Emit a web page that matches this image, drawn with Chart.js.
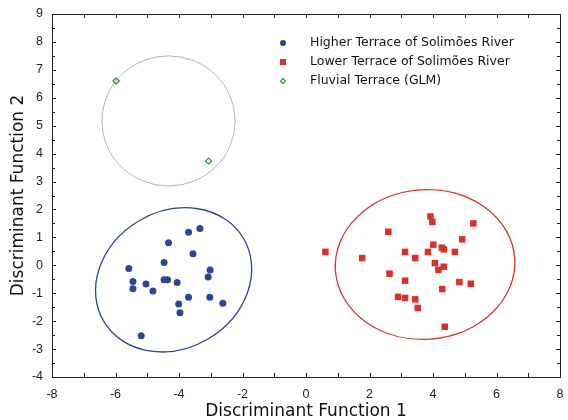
<!DOCTYPE html>
<html><head><meta charset="utf-8"><title>Discriminant</title>
<script src="https://cdn.jsdelivr.net/npm/chart.js"></script>
<style>body{margin:0;background:#fff}</style></head>
<body>
<div style="width:568px;height:420px"><canvas id="dfChart" width="568" height="420"></canvas></div>
<script>
// group scores
const higherX = [-3.70,-3.34,-4.33,-3.56,-4.47,-5.58,-3.02,-3.08,-5.45,-5.04,-4.47,-4.36,-4.06,-5.45,-4.82,-3.70,-3.03,-2.62,-4.01,-3.97,-5.19];
const higherY = [1.18,1.32,0.81,0.41,0.10,-0.11,-0.17,-0.42,-0.58,-0.67,-0.52,-0.52,-0.62,-0.84,-0.92,-1.14,-1.14,-1.36,-1.39,-1.70,-2.52];
const lowerX = [0.61,1.77,2.59,3.92,3.98,5.27,4.92,4.01,3.12,3.84,4.28,4.34,4.69,3.44,4.06,4.17,4.34,2.63,3.12,4.83,5.19,4.29,2.90,3.12,3.44,3.52,4.37];
const lowerY = [0.48,0.26,1.20,1.75,1.55,1.50,0.93,0.74,0.48,0.48,0.63,0.57,0.48,0.26,0.08,-0.16,-0.05,-0.30,-0.55,-0.60,-0.66,-0.85,-1.13,-1.17,-1.22,-1.53,-2.20];
const fluvialX = [-5.98,-3.07];
const fluvialY = [6.60,3.73];

const groupNames = ['Higher Terrace of Solimões River','Lower Terrace of Solimões River','Fluvial Terrace (GLM)'];

// confidence ellipses: higher, lower, fluvial
const ellipseCx = [-4.17, 3.75, -4.33];
const ellipseCy = [-0.52, 0.03, 5.17];
const ellipseRx = [2.56, 2.83, 2.10];
const ellipseRy = [2.45, 2.68, 2.33];
const ellipseAngle = [-31, -4, 0];

const xTicks = [-8,-6,-4,-2,0,2,4,6,8];

const blue = '#2c4790', red = '#d8302e', green = '#2f9a3c';
const ellipseColors = [blue, red, '#a0a0a0'];

function pts(xs, ys) { return xs.map((x, i) => ({x: x, y: ys[i]})); }

const ellipses = {
  id: 'ellipses',
  beforeDatasetsDraw(chart) {
    const {ctx, scales: {x, y}} = chart;
    ctx.save();
    for (let i = 0; i < ellipseCx.length; i++) {
      const cx = x.getPixelForValue(ellipseCx[i]), cy = y.getPixelForValue(ellipseCy[i]);
      const rx = x.getPixelForValue(ellipseCx[i] + ellipseRx[i]) - cx;
      const ry = cy - y.getPixelForValue(ellipseCy[i] + ellipseRy[i]);
      ctx.beginPath();
      ctx.ellipse(cx, cy, rx, ry, ellipseAngle[i] * Math.PI / 180, 0, 2 * Math.PI);
      ctx.strokeStyle = ellipseColors[i];
      ctx.lineWidth = i == 2 ? 0.8 : 1.3;
      ctx.stroke();
    }
    ctx.restore();
  }
};

// frame with inward ticks on all four sides, plus legend inside
const frame = {
  id: 'frame',
  afterDraw(chart) {
    const {ctx, chartArea: a, scales: {x, y}} = chart;
    ctx.save();
    ctx.strokeStyle = '#222';
    ctx.lineWidth = 1;
    ctx.strokeRect(a.left + 0.5, a.top + 0.5, a.right - a.left, a.bottom - a.top);
    ctx.beginPath();
    for (let v = -8; v <= 8; v++) {
      const px = Math.round(x.getPixelForValue(v)) + 0.5;
      ctx.moveTo(px, a.bottom); ctx.lineTo(px, a.bottom - 4);
      ctx.moveTo(px, a.top); ctx.lineTo(px, a.top + 4);
    }
    for (let v = -4; v <= 9; v += 0.5) {
      const py = Math.round(y.getPixelForValue(v)) + 0.5;
      const len = Number.isInteger(v) ? 4 : 3;
      ctx.moveTo(a.left, py); ctx.lineTo(a.left + len, py);
      ctx.moveTo(a.right, py); ctx.lineTo(a.right - len, py);
    }
    ctx.stroke();

    // legend
    const lx = 283, ly = 43, gap = 19;
    ctx.font = '12.5px "DejaVu Sans"';
    ctx.textBaseline = 'middle';
    ctx.fillStyle = '#111';
    chart.data.datasets.forEach((ds, i) => {
      const yy = ly + i * gap;
      ctx.fillText(ds.label, 310, yy);
    });
    ctx.fillStyle = blue;
    ctx.beginPath(); ctx.arc(lx, ly, 3, 0, 2 * Math.PI); ctx.fill();
    ctx.fillStyle = red;
    ctx.fillRect(lx - 3, ly + gap - 3, 6, 6);
    ctx.strokeStyle = green; ctx.lineWidth = 1.2;
    ctx.beginPath();
    ctx.moveTo(lx, ly + 2 * gap - 2.5); ctx.lineTo(lx + 2.5, ly + 2 * gap);
    ctx.lineTo(lx, ly + 2 * gap + 2.5); ctx.lineTo(lx - 2.5, ly + 2 * gap); ctx.closePath();
    ctx.stroke();
    ctx.restore();
  }
};

new Chart(document.getElementById('dfChart'), {
  type: 'scatter',
  data: {
    datasets: [
      { label: groupNames[0], data: pts(higherX, higherY), pointStyle: 'circle', pointRadius: 3.5,
        backgroundColor: blue, borderColor: blue, borderWidth: 0 },
      { label: groupNames[1], data: pts(lowerX, lowerY), pointStyle: 'rect', pointRadius: 4.6,
        backgroundColor: red, borderColor: red, borderWidth: 0 },
      { label: groupNames[2], data: pts(fluvialX, fluvialY), pointStyle: 'rectRot', pointRadius: 3,
        backgroundColor: 'rgba(0,0,0,0)', borderColor: green, borderWidth: 1.3 }
    ]
  },
  options: {
    responsive: false,
    animation: false,
    layout: { padding: { top: 14, right: 8, left: 0, bottom: 0 } },
    plugins: { legend: { display: false }, tooltip: { enabled: false } },
    scales: {
      x: {
        type: 'linear', min: -8, max: 8,
        afterBuildTicks: s => { s.ticks = xTicks.map(v => ({value: v})); },
        afterFit: s => { s.height = 43; },
        grid: { display: false },
        border: { display: false },
        ticks: { color: '#222', font: { family: 'Liberation Sans', size: 12.5 }, padding: 2, maxRotation: 0 },
        title: { display: true, text: 'Discriminant Function 1', color: '#111',
          font: { family: 'DejaVu Sans', size: 17 }, padding: { top: 0, bottom: -2 } }
      },
      y: {
        type: 'linear', min: -4, max: 9,
        ticks: { stepSize: 1, color: '#222', font: { family: 'Liberation Sans', size: 12.5 }, padding: 1 },
        afterFit: s => { s.width = 52; },
        grid: { display: false },
        border: { display: false },
        title: { display: true, text: 'Discriminant Function 2', color: '#111',
          font: { family: 'DejaVu Sans', size: 17 }, padding: { top: 8, bottom: 0 } }
      }
    }
  },
  plugins: [ellipses, frame]
});
</script></body></html>
